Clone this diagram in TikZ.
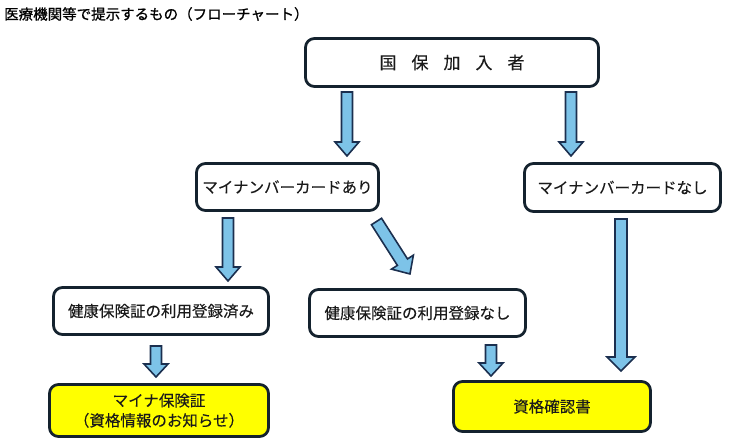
\documentclass[tikz,border=0pt]{standalone}
\usepackage{fontspec}
\setmainfont{Noto Sans CJK JP}
\newfontfamily\titlefont{Noto Sans CJK JP}[FakeBold=0.9]
\newfontfamily\boxfont{Noto Sans CJK JP}[FakeBold=0.1]
\usetikzlibrary{calc}
\definecolor{boxline}{HTML}{14222E}
\definecolor{arrfill}{HTML}{7DC3E8}
\definecolor{arrline}{HTML}{1B2F4F}
\definecolor{txt}{HTML}{1A1A1A}
\definecolor{hl}{HTML}{FFFF00}
\tikzset{
  box/.style={draw=boxline, line width=2.8pt, rounded corners=9pt, fill=white, text=txt,
    font=\boxfont\fontsize{15.5}{20}\selectfont, inner sep=0pt, outer sep=0pt, align=center},
  hlbox/.style={box, fill=hl},
  fatarrow/.style={draw=arrline, fill=arrfill, line width=1.6pt, line join=miter},
}
\newcommand\fatarrow[5]{%
  \path[fatarrow] let \p1=(#1), \p2=(#2),
    \n1={atan2(\y2-\y1,\x2-\x1)}, \n2={veclen(\x2-\x1,\y2-\y1)-#5} in
    [shift={(\p1)}, rotate=\n1]
    (0,-#3) -- (\n2,-#3) -- (\n2,-#4) -- ({\n2+#5},0) -- (\n2,#4) -- (\n2,#3) -- (0,#3) -- cycle;}
\begin{document}
\begin{tikzpicture}[x=1pt,y=-1pt]
\useasboundingbox (0,0) rectangle (754,444);
\node[anchor=west, font=\titlefont\fontsize{14.5}{16}\selectfont, text=black, inner sep=0pt] (title) at (4,14) {医療機関等で提示するもの（フローチャート）};
\node[box, minimum width=293, minimum height=48, font=\boxfont\fontsize{17}{20}\selectfont] (top) at (452,62.5)
  {国\hspace{15pt}保\hspace{15pt}加\hspace{15pt}入\hspace{15pt}者};
\node[box, minimum width=182, minimum height=47] (ari) at (287.5,187) {マイナンバーカードあり};
\node[box, minimum width=196, minimum height=48] (nashi) at (622.5,187.5) {マイナンバーカードなし};
\node[box, minimum width=215, minimum height=47] (zumi) at (161,311) {健康保険証の利用登録済み};
\node[box, minimum width=216, minimum height=47] (tnashi) at (417.5,313) {健康保険証の利用登録なし};
\node[hlbox, minimum width=219, minimum height=52] (myna) at (159,410.5) {マイナ保険証\\（資格情報のお知らせ）};
\node[hlbox, minimum width=197, minimum height=50] (shikaku) at (552,406.5) {資格確認書};
% arrow end points
\coordinate (a1s) at (347,92);  \coordinate (a1e) at (347,156);
\coordinate (a2s) at (571,92);  \coordinate (a2e) at (571,156);
\coordinate (a3s) at (228,218); \coordinate (a3e) at (228,281);
\coordinate (a4s) at (376.5,221.5); \coordinate (a4e) at (410,274);
\coordinate (a5s) at (621,219); \coordinate (a5e) at (621,371);
\coordinate (a6s) at (156,346); \coordinate (a6e) at (156,377);
\coordinate (a7s) at (491,345); \coordinate (a7e) at (491,376);
\fatarrow{a1s}{a1e}{5.5}{12}{14}
\fatarrow{a2s}{a2e}{5.5}{12}{14}
\fatarrow{a3s}{a3e}{5.5}{12}{14}
\fatarrow{a4s}{a4e}{6}{13}{14}
\fatarrow{a5s}{a5e}{6}{14}{14}
\fatarrow{a6s}{a6e}{5.5}{12}{13}
\fatarrow{a7s}{a7e}{5.5}{12}{13}
\end{tikzpicture}
\end{document}
